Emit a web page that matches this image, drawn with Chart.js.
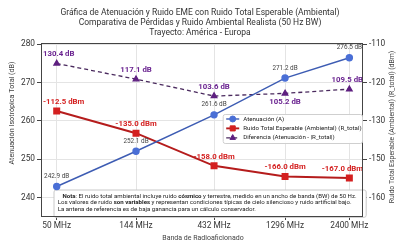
<!DOCTYPE html>
<html><head><meta charset="utf-8">
<script src="https://cdn.jsdelivr.net/npm/chart.js@4/dist/chart.umd.min.js"></script>
<style>html,body{margin:0;padding:0;background:#fff}</style>
</head><body>
<canvas id="c" width="400" height="250"></canvas>
<script>
// ---- data ----
const bands = ['50 MHz','144 MHz','432 MHz','1296 MHz','2400 MHz'];
const bandPos = [0, 1, 1.984, 2.879, 3.69];
const atten = [242.9, 252.1, 261.6, 271.2, 276.5];
const noiseLabels = [-112.5, -135.0, -158.0, -166.0, -167.0];
const noisePlot = [262.6, 256.8, 248.3, 245.5, 245.1];
const diffLabels = [130.4, 117.1, 103.6, 105.2, 109.5];
const diffPlot = [275.0, 270.9, 266.5, 267.2, 268.3];
const leftTicks = [240, 250, 260, 270, 280];
const rightTickLabels = [-160, -150, -130, -120, -110];
const titleLines = ['Gráfica de Atenuación y Ruido EME con Ruido Total Esperable (Ambiental)',
  'Comparativa de Pérdidas y Ruido Ambiental Realista (50 Hz BW)',
  'Trayecto: América - Europa'];
const seriesNames = ['Atenuación (A)','Ruido Total Esperable (Ambiental) (R_total)','Diferencia (Atenuación - |R_total|)'];
const noteLines = [
  [{t:'Nota',b:1},{t:': El ruido total ambiental incluye ruido '},{t:'cósmico',b:1},{t:' y terrestre, medido en un ancho de banda (BW) de 50 Hz.'}],
  [{t:'Los valores de ruido '},{t:'son variables',b:1},{t:' y representan condiciones típicas de cielo silencioso y ruido artificial bajo.'}],
  [{t:'La antena de referencia es de baja ganancia para un cálculo conservador.'}]
];
const F = 'Roboto, "Noto Sans", sans-serif';
const C_BLUE='#4a6fd6', C_BLUE_L='#3d5cb3', C_RED='#d42020', C_RED_L='#b51c1c', C_PUR='#5e1f80', C_PUR_L='#4a2a5e';

const pts = arr => arr.map((v,i)=>({x:bandPos[i], y:v}));

const overlay = {
  id:'overlay',
  beforeDatasetsDraw(chart){
    const ctx=chart.ctx, a=chart.chartArea;
    const bx=a.left+12.5, by=a.bottom-26.5, bw=a.right+2.7-bx, bh=27.3;
    ctx.save();
    ctx.fillStyle='#fff'; ctx.strokeStyle='#c8c8c8'; ctx.lineWidth=1;
    ctx.beginPath(); ctx.roundRect(bx+0.5,by+0.5,bw,bh,2); ctx.fill(); ctx.stroke();
    ctx.textBaseline='middle'; ctx.fillStyle='#222';
    const sz=6.1, lh=6.7;
    noteLines.forEach((segs,li)=>{
      let x = bx + (li===0?9:4.2);
      const y = by + 6.7 + li*lh;
      segs.forEach(s=>{
        ctx.font=(s.b?'bold ':'')+sz+'px '+F;
        ctx.fillText(s.t,x,y);
        x+=ctx.measureText(s.t).width;
      });
    });
    ctx.restore();
  },
  afterDatasetsDraw(chart){
    const ctx=chart.ctx, a=chart.chartArea;
    ctx.save(); ctx.textAlign='center'; ctx.textBaseline='middle';
    const put=(di,texts,font,color,offs)=>{
      const meta=chart.getDatasetMeta(di);
      meta.data.forEach((p,i)=>{
        ctx.font=font; ctx.fillStyle=color;
        const t=texts[i]; const w=ctx.measureText(t).width;
        let x=p.x;
        if(x+w/2>a.right) x=a.right-w/2;
        if(x-w/2<a.left+2) x=a.left+2+w/2;
        ctx.fillText(t,x,p.y+offs(i));
      });
    };
    put(0, atten.map(v=>v.toFixed(1)+' dB'), '6.4px '+F, '#444', ()=>-10);
    put(1, noiseLabels.map(v=>v.toFixed(1)+' dBm'), 'bold 7.8px '+F, C_RED, ()=>-9);
    put(2, diffLabels.map(v=>v.toFixed(1)+' dB'), 'bold 7.8px '+F, '#6a2390', i=>i===3?9:-9);
    ctx.restore();
  },
  afterDraw(chart){
    const ctx=chart.ctx, a=chart.chartArea;
    ctx.save();
    ctx.strokeStyle='#444'; ctx.lineWidth=1;
    ctx.strokeRect(Math.round(a.left)+0.5, Math.round(a.top)+0.5, Math.round(a.right-a.left)-1, Math.round(a.bottom-a.top));
    const lx=a.left+181.7, ly=a.top+71, lw=a.right-1-lx, lhh=29;
    ctx.fillStyle='rgba(255,255,255,0.9)'; ctx.strokeStyle='#cfcfcf';
    ctx.beginPath(); ctx.roundRect(lx+0.5,ly+0.5,lw,lhh,2); ctx.fill(); ctx.stroke();
    const ds=chart.data.datasets;
    ctx.textBaseline='middle'; ctx.textAlign='left';
    ds.forEach((d,i)=>{
      const y=ly+5+i*9.4;
      ctx.strokeStyle=d.borderColor; ctx.lineWidth=d.borderWidth;
      ctx.setLineDash(d.borderDash||[]);
      ctx.beginPath(); ctx.moveTo(lx+3.5,y); ctx.lineTo(lx+16.5,y); ctx.stroke();
      ctx.setLineDash([]);
      ctx.fillStyle=d.pointBackgroundColor; ctx.strokeStyle=d.pointBorderColor; ctx.lineWidth=1;
      Chart.helpers.drawPoint(ctx,{pointStyle:d.pointStyle,radius:d.pointRadius,borderWidth:1},lx+10,y);
      ctx.fillStyle='#222'; ctx.font='6.2px '+F;
      ctx.fillText(d.label,lx+20.5,y);
    });
    ctx.fillStyle='#444'; ctx.textAlign='center';
    ctx.font='7.2px '+F;
    ctx.save(); ctx.translate(11.7,113); ctx.rotate(-Math.PI/2); ctx.fillText('Atenuación Isotrópica Total (dB)',0,0); ctx.restore();
    ctx.font='6.9px '+F;
    ctx.save(); ctx.translate(392,127); ctx.rotate(-Math.PI/2); ctx.fillText('Ruido Total Esperable (Ambiental) (R_total) (dBm)',0,0); ctx.restore();
    ctx.font='7px '+F;
    ctx.fillText('Banda de Radioaficionado',203,238);
    ctx.restore();
  }
};

new Chart(document.getElementById('c'),{
  type:'line',
  data:{datasets:[
    {label:seriesNames[0], data:pts(atten), borderColor:C_BLUE_L, borderWidth:1.4, pointStyle:'circle', pointRadius:3, pointBackgroundColor:C_BLUE, pointBorderColor:C_BLUE, yAxisID:'y'},
    {label:seriesNames[1], data:pts(noisePlot), borderColor:C_RED_L, borderWidth:1.9, pointStyle:'rect', pointRadius:3.6, pointBackgroundColor:C_RED, pointBorderColor:C_RED, yAxisID:'y'},
    {label:seriesNames[2], data:pts(diffPlot), borderColor:C_PUR_L, borderWidth:1.3, borderDash:[4,3], pointStyle:'triangle', pointRadius:3.2, pointBackgroundColor:C_PUR, pointBorderColor:C_PUR, yAxisID:'y'}
  ]},
  options:{
    responsive:false, animation:false, devicePixelRatio:1,
    layout:{padding:0},
    plugins:{
      legend:{display:false}, tooltip:{enabled:false},
      title:{display:true, text:titleLines, color:'#333', font:{family:F,size:8.5,weight:'normal',lineHeight:1.18}, padding:{top:7.5,bottom:5.4}}
    },
    scales:{
      x:{type:'linear', min:-0.198, max:3.862,
        afterBuildTicks(s){ s.ticks = bandPos.map(v=>({value:v})); },
        ticks:{autoSkip:false, maxRotation:0, color:'#333', font:{family:F,size:8.3}, padding:1, callback:(v,i)=>bands[i]},
        grid:{color:'#e4e4e4', tickLength:4, tickColor:'#444'},
        border:{display:false},
        afterFit(s){ s.height=34; }
      },
      y:{position:'left', min:235.2, max:280.35,
        afterBuildTicks(s){ s.ticks = leftTicks.map(v=>({value:v})); },
        ticks:{color:'#333', font:{family:F,size:8.3}, padding:2},
        grid:{color:'#e4e4e4', tickLength:4, tickColor:'#444'},
        border:{display:false},
        afterFit(s){ s.width=41; }
      },
      y1:{position:'right', min:235.2, max:280.35,
        afterBuildTicks(s){ s.ticks = leftTicks.map(v=>({value:v})); },
        ticks:{color:'#333', font:{family:F,size:8.3}, padding:2, callback:(v,i)=>String(rightTickLabels[i])},
        grid:{drawOnChartArea:false, tickLength:4, tickColor:'#444'},
        border:{display:false},
        afterFit(s){ s.width=37; }
      }
    }
  },
  plugins:[overlay]
});
</script>
</body></html>
